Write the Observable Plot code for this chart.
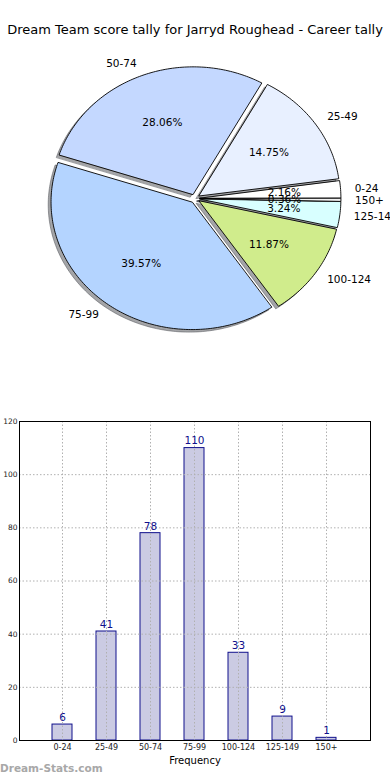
<!DOCTYPE html>
<html>
<head>
<meta charset="utf-8">
<script src="https://cdn.jsdelivr.net/npm/d3@7"></script>
<script src="https://cdn.jsdelivr.net/npm/@observablehq/plot@0.6"></script>
<style>
  html, body { margin: 0; padding: 0; background: white; }
  body { width: 390px; height: 780px; position: relative; overflow: hidden; font-family: "DejaVu Sans", sans-serif; }
  #title { position: absolute; left: 0; top: 0; width: 390px; height: 60px; line-height: 60px; text-align: center; font-size: 13px; color: #000; white-space: nowrap; }
  #pie { position: absolute; left: 0; top: 60px; }
  #bar { position: absolute; left: 0; top: 400px; }
  #mark { position: absolute; left: 0; top: 762px; font-size: 10.5px; font-weight: bold; color: #a8a8a8; }
  svg { overflow: visible; }
</style>
</head>
<body>
<div id="title">Dream Team score tally for Jarryd Roughead - Career tally</div>
<div id="pie"></div>
<div id="bar"></div>
<div id="mark">Dream-Stats.com</div>
<script>
const categories = ["0-24", "25-49", "50-74", "75-99", "100-124", "125-149", "150+"];
const counts = [6, 41, 78, 110, 33, 9, 1];
const sliceColors = ["#ffffff", "#e8f0ff", "#c4d8ff", "#b4d4ff", "#d0ec8c", "#d8ffff", "#f2f2f2"];
const yTicks = [0, 20, 40, 60, 80, 100, 120];

// ---------- pie ----------
const explode = 0.035;
const total = d3.sum(counts);
let a0 = 0;
const slices = categories.map((cat, i) => {
  const frac = counts[i] / total;
  const a1 = a0 + frac * 2 * Math.PI;
  const mid = (a0 + a1) / 2;
  const ox = explode * Math.cos(mid), oy = explode * Math.sin(mid);
  const n = Math.max(2, Math.ceil((a1 - a0) / (Math.PI / 180)));
  const pts = [{x: ox, y: oy}];
  for (let k = 0; k <= n; k++) {
    const a = a0 + (a1 - a0) * k / n;
    pts.push({x: ox + Math.cos(a), y: oy + Math.sin(a)});
  }
  const s = {cat, frac, mid, ox, oy, pts, color: sliceColors[i],
    pct: (frac * 100).toFixed(2) + "%",
    lx: ox + 1.1 * Math.cos(mid), ly: oy + 1.1 * Math.sin(mid),
    px: ox + 0.6 * Math.cos(mid), py: oy + 0.6 * Math.sin(mid)};
  a0 = a1;
  return s;
});

const shadowMarks = slices.map(s => Plot.line(s.pts.map(p => ({x: p.x - 0.02, y: p.y - 0.02})), {
  x: "x", y: "y", curve: "linear-closed", fill: "#4a4c52", fillOpacity: 0.5,
  stroke: "#4a4c52", strokeOpacity: 0.5, strokeWidth: 1
}));
const wedgeMarks = slices.map(s => Plot.line(s.pts, {
  x: "x", y: "y", curve: "linear-closed", fill: s.color, stroke: "black", strokeWidth: 0.9
}));

const cx = 194.5, cy = 138, rx = 141, ry = 127.5;
const pie = Plot.plot({
  width: 390, height: 340, margin: 0,
  style: {fontFamily: "DejaVu Sans", fontSize: "10.5px", color: "black", background: "transparent"},
  x: {domain: [-1, 1], range: [cx - rx, cx + rx], axis: null},
  y: {domain: [-1, 1], range: [cy + ry, cy - ry], axis: null},
  marks: [
    ...shadowMarks,
    ...wedgeMarks,
    Plot.text(slices, {x: "px", y: "py", text: "pct", fill: "black", fontSize: 10.5}),
    Plot.text(slices.filter(s => s.lx >= 0), {x: "lx", y: "ly", text: "cat", textAnchor: "start", fill: "black", fontSize: 10.5}),
    Plot.text(slices.filter(s => s.lx < 0), {x: "lx", y: "ly", text: "cat", textAnchor: "end", fill: "black", fontSize: 10.5})
  ]
});
document.getElementById("pie").appendChild(pie);

// ---------- bars ----------
const barData = categories.map((cat, i) => ({cat, count: counts[i]}));
const bar = Plot.plot({
  width: 390, height: 380,
  marginLeft: 19, marginRight: 20, marginTop: 21, marginBottom: 40,
  style: {fontFamily: "DejaVu Sans", fontSize: "7.5px", color: "#222", background: "transparent"},
  x: {type: "band", domain: categories, range: [40, 348], paddingInner: 0.55, paddingOuter: 0.275, label: null},
  y: {domain: [0, 120], label: null},
  marks: [
    Plot.barY(barData, {x: "cat", y: "count", fill: "#cbcbe3", stroke: "#10108c", strokeWidth: 1}),
    Plot.gridY(yTicks, {stroke: "#b0b0b0", strokeOpacity: 1, strokeDasharray: "1.5,2"}),
    Plot.gridX(categories, {stroke: "#b0b0b0", strokeOpacity: 1, strokeDasharray: "1.5,2"}),
    Plot.text(barData, {x: "cat", y: "count", text: d => String(d.count), dy: -7, fill: "#10108c", fontSize: 10.5}),
    Plot.frame({stroke: "black", strokeWidth: 1}),
    Plot.axisY(yTicks, {tickSize: 0, tickPadding: 2, fontSize: 7.5, fill: "#222"}),
    Plot.axisX({tickSize: 0, tickPadding: 4, fontSize: 8, fill: "#222", label: null}),
    Plot.text(["Frequency"], {frameAnchor: "bottom", dy: 23, fontSize: 10, fill: "black"})
  ]
});
document.getElementById("bar").appendChild(bar);
</script>
</body>
</html>
